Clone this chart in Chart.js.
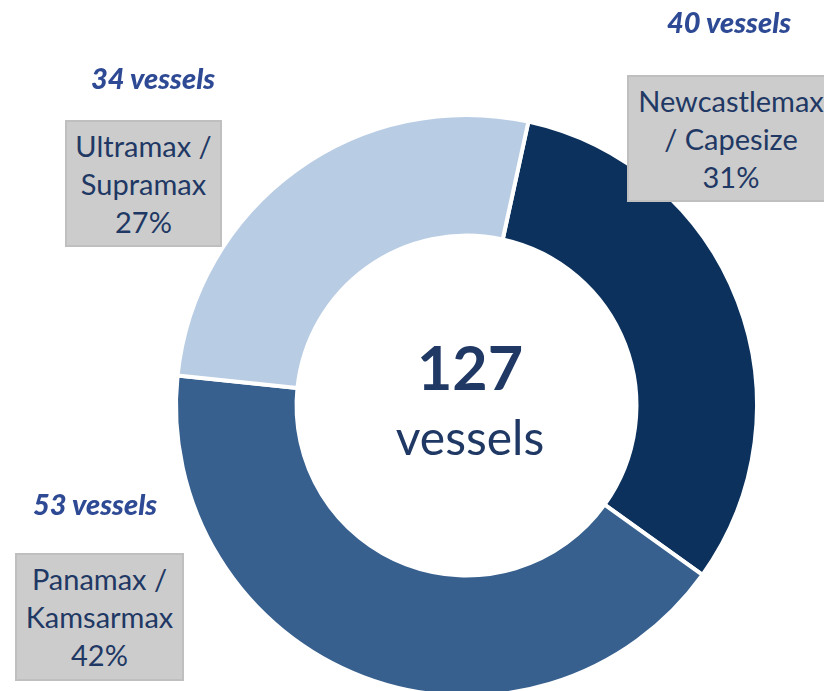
<!DOCTYPE html>
<html>
<head>
<meta charset="utf-8">
<script src="https://cdn.jsdelivr.net/npm/chart.js@4.4.1/dist/chart.umd.min.js"></script>
<style>
    html, body { margin: 0; padding: 0; background: #fff; }
    #wrap { position: relative; width: 824px; height: 691px; overflow: hidden; font-family: Lato, "Open Sans", sans-serif; }
    #chart { position: absolute; left: 0; top: 0; }
    .box {
        position: absolute; box-sizing: border-box;
        background: #cccccc; border: 2px solid #bfbfbf;
        color: #1f3864; font-size: 29px; line-height: 38px;
        text-align: center; padding-top: 5px; white-space: nowrap;
    }
    .count {
        position: absolute; color: #2e4a94; font-size: 29px;
        font-weight: 900; font-style: italic; text-align: center; width: 200px;
    }
    .center { position: absolute; color: #1f3864; text-align: center; width: 300px; }
</style>
</head>
<body>
<div id="wrap">
    <canvas id="chart" width="824" height="730"></canvas>
    <div class="count" style="left:629px; top:4px;">40 vessels</div>
    <div class="box" style="left:627px; top:75px; width:208px; height:127px;">Newcastlemax<br>/ Capesize<br>31%</div>
    <div class="count" style="left:53px; top:60px;">34 vessels</div>
    <div class="box" style="left:65px; top:120px; width:157px; height:127px;">Ultramax /<br>Supramax<br>27%</div>
    <div class="count" style="left:-5px; top:486px;">53 vessels</div>
    <div class="box" style="left:15px; top:553px; width:169px; height:128px;">Panamax /<br>Kamsarmax<br>42%</div>
    <div class="center" style="left:320px; top:330px; font-size:61px; font-weight:bold;">127</div>
    <div class="center" style="left:320px; top:408px; font-size:48px;">vessels</div>
</div>
<script>
const segments = ["Newcastlemax / Capesize", "Panamax / Kamsarmax", "Ultramax / Supramax"];
const vessels = [40, 53, 34];
const colours = ["#0b315c", "#37608f", "#b8cce4"];

const ctx = document.getElementById("chart");

new Chart(ctx, {
    type: "doughnut",
    data: {
        labels: segments,
        datasets: [
            {
                data: vessels,
                backgroundColor: colours,
                borderColor: "#ffffff",
                borderWidth: 4,
            },
        ],
    },
    options: {
        responsive: false,
        animation: false,
        rotation: 12.3,
        cutout: "58.5%",
        layout: {
            padding: { left: 174, top: 113, right: 65, bottom: 32 },
        },
        plugins: {
            legend: { display: false },
            tooltip: { enabled: false },
        },
    },
});
</script>
</body>
</html>
